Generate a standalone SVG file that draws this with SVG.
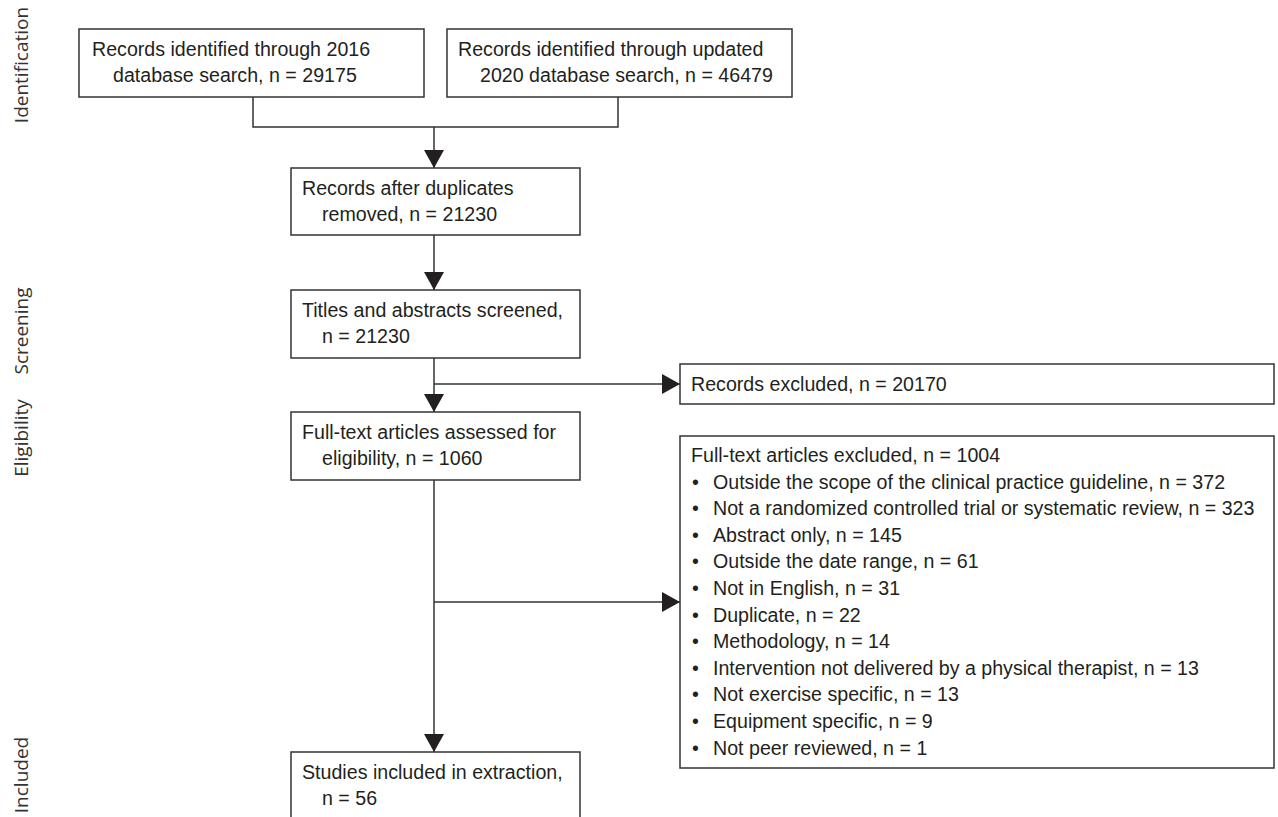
<svg xmlns="http://www.w3.org/2000/svg" width="1278" height="817" viewBox="0 0 1278 817">
<style>
.box{fill:#fff;stroke:#333;stroke-width:1.5}
.t{font-family:"Liberation Sans",Arial,sans-serif;font-size:21px;fill:#231f20}
.lab{font-family:"Open Sans","Liberation Sans",sans-serif;font-size:19px;fill:#333;text-anchor:middle}
.ln{fill:none;stroke:#333;stroke-width:1.5}
</style>
<defs>
<marker id="ah" viewBox="0 0 18 20" refX="18" refY="10" markerWidth="18" markerHeight="20" orient="auto" markerUnits="userSpaceOnUse"><path d="M0,0 L18,10 L0,20 z" fill="#231f20"/></marker>
</defs>
<rect width="1278" height="817" fill="#fff"/>
<g id="stage-labels">
<text class="lab" transform="translate(28,65) rotate(-90)">Identification</text>
<text class="lab" transform="translate(28,331) rotate(-90)">Screening</text>
<text class="lab" transform="translate(28,438) rotate(-90)">Eligibility</text>
<text class="lab" transform="translate(28,775) rotate(-90)">Included</text>
</g>
<g id="connectors">
<polyline class="ln" points="253,97 253,127 618,127 618,97"/>
<line class="ln" x1="434" y1="127" x2="434" y2="168" marker-end="url(#ah)"/>
<line class="ln" x1="434" y1="235" x2="434" y2="290" marker-end="url(#ah)"/>
<line class="ln" x1="434" y1="358" x2="434" y2="412" marker-end="url(#ah)"/>
<line class="ln" x1="434" y1="384" x2="680" y2="384" marker-end="url(#ah)"/>
<line class="ln" x1="434" y1="480" x2="434" y2="752" marker-end="url(#ah)"/>
<line class="ln" x1="434" y1="602" x2="680" y2="602" marker-end="url(#ah)"/>
</g>
<g id="n-db2016">
<rect class="box" x="79" y="29" width="345" height="68"/>
<text class="t" transform="translate(92,56) scale(0.935,1)">Records identified through 2016</text>
<text class="t" transform="translate(113,82) scale(0.935,1)">database search, n = 29175</text>
</g>
<g id="n-db2020">
<rect class="box" x="447" y="29" width="345" height="68"/>
<text class="t" transform="translate(458,56) scale(0.935,1)">Records identified through updated</text>
<text class="t" transform="translate(480,82) scale(0.935,1)">2020 database search, n = 46479</text>
</g>
<g id="n-dedup">
<rect class="box" x="291" y="168" width="289" height="67"/>
<text class="t" transform="translate(302,195) scale(0.935,1)">Records after duplicates</text>
<text class="t" transform="translate(322,221) scale(0.935,1)">removed, n = 21230</text>
</g>
<g id="n-screened">
<rect class="box" x="291" y="290" width="289" height="68"/>
<text class="t" transform="translate(302,317) scale(0.935,1)">Titles and abstracts screened,</text>
<text class="t" transform="translate(322,343) scale(0.935,1)">n = 21230</text>
</g>
<g id="n-excluded-records">
<rect class="box" x="680" y="364" width="594" height="40"/>
<text class="t" transform="translate(691,391) scale(0.935,1)">Records excluded, n = 20170</text>
</g>
<g id="n-fulltext">
<rect class="box" x="291" y="412" width="289" height="68"/>
<text class="t" transform="translate(302,439) scale(0.935,1)">Full-text articles assessed for</text>
<text class="t" transform="translate(322,465) scale(0.935,1)">eligibility, n = 1060</text>
</g>
<g id="n-excluded-fulltext">
<rect class="box" x="680" y="436" width="594" height="332"/>
<text class="t" transform="translate(691,462) scale(0.935,1)">Full-text articles excluded, n = 1004</text>
<g class="t">
<text transform="translate(692,488.6) scale(0.935,1)">•</text>
<text transform="translate(692,515.2) scale(0.935,1)">•</text>
<text transform="translate(692,541.8) scale(0.935,1)">•</text>
<text transform="translate(692,568.4) scale(0.935,1)">•</text>
<text transform="translate(692,595) scale(0.935,1)">•</text>
<text transform="translate(692,621.6) scale(0.935,1)">•</text>
<text transform="translate(692,648.2) scale(0.935,1)">•</text>
<text transform="translate(692,674.8) scale(0.935,1)">•</text>
<text transform="translate(692,701.4) scale(0.935,1)">•</text>
<text transform="translate(692,728) scale(0.935,1)">•</text>
<text transform="translate(692,754.6) scale(0.935,1)">•</text>
<text transform="translate(713,488.6) scale(0.935,1)">Outside the scope of the clinical practice guideline, n = 372</text>
<text transform="translate(713,515.2) scale(0.935,1)">Not a randomized controlled trial or systematic review, n = 323</text>
<text transform="translate(713,541.8) scale(0.935,1)">Abstract only, n = 145</text>
<text transform="translate(713,568.4) scale(0.935,1)">Outside the date range, n = 61</text>
<text transform="translate(713,595) scale(0.935,1)">Not in English, n = 31</text>
<text transform="translate(713,621.6) scale(0.935,1)">Duplicate, n = 22</text>
<text transform="translate(713,648.2) scale(0.935,1)">Methodology, n = 14</text>
<text transform="translate(713,674.8) scale(0.935,1)">Intervention not delivered by a physical therapist, n = 13</text>
<text transform="translate(713,701.4) scale(0.935,1)">Not exercise specific, n = 13</text>
<text transform="translate(713,728) scale(0.935,1)">Equipment specific, n = 9</text>
<text transform="translate(713,754.6) scale(0.935,1)">Not peer reviewed, n = 1</text>
</g>
</g>
<g id="n-included">
<rect class="box" x="291" y="752" width="289" height="80"/>
<text class="t" transform="translate(302,779) scale(0.935,1)">Studies included in extraction,</text>
<text class="t" transform="translate(322,805) scale(0.935,1)">n = 56</text>
</g>
</svg>
